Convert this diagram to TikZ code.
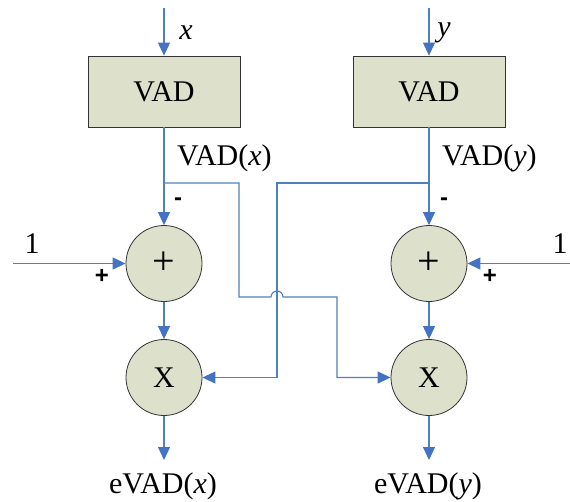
\documentclass[tikz,border=0pt]{standalone}
\usepackage{fontspec}
\setmainfont{Liberation Serif}
\newfontfamily\signfont{Liberation Sans}
\usetikzlibrary{arrows.meta}
\definecolor{lineblue}{RGB}{79,129,189}
\definecolor{arrblue}{RGB}{68,114,196}
\definecolor{boxfill}{RGB}{221,224,203}
\begin{document}
\begin{tikzpicture}[x=1pt,y=-1pt,
  wire/.style={draw=lineblue, line width=1.1pt},
  arr/.style={wire, -{Triangle[length=13pt,width=12pt,color=arrblue]}},
  vadbox/.style={draw=black!80, line width=0.8pt, fill=boxfill, minimum width=152pt, minimum height=71pt, inner sep=0pt, font=\fontsize{30}{34}\selectfont},
  opnode/.style={circle, draw=black!80, line width=0.8pt, fill=boxfill, minimum size=76pt, inner sep=0pt, font=\fontsize{30}{34}\selectfont},
  lbl/.style={inner sep=0pt, font=\fontsize{30}{34}\selectfont},
  sgn/.style={inner sep=0pt, font=\signfont\bfseries\fontsize{24}{26}\selectfont}
]
\useasboundingbox (0,0) rectangle (570,501);

% boxes
\node[vadbox] (vadx) at (164,91.5) {VAD};
\node[vadbox] (vady) at (429,91.5) {VAD};
% circles
\node[opnode, font=\fontsize{40}{44}\selectfont] (plx) at (164,263.5) {+};
\node[opnode, font=\fontsize{40}{44}\selectfont] (ply) at (429,263.5) {+};
\node[opnode] (mx) at (164,377.5) {X};
\node[opnode] (my) at (429,377.5) {X};

% inputs
\coordinate (inx) at (164,8);
\coordinate (iny) at (429,8);
\draw[arr] (inx) -- (vadx.north);
\draw[arr] (iny) -- (vady.north);
\node[lbl] (lx) at (186,33) {\textit{x}};
\node[lbl] (ly) at (444,33) {\textit{y}};

% VAD outputs
\draw[arr] (vadx.south) -- (plx.north);
\draw[arr] (vady.south) -- (ply.north);
\node[lbl, anchor=west] (lvx) at (177,158) {VAD(\textit{x})};
\node[lbl, anchor=west] (lvy) at (442,158) {VAD(\textit{y})};
\node[sgn] (mnx) at (178,202) {-};
\node[sgn] (mny) at (444,202) {-};

% constant inputs
\coordinate (onex) at (13,263.5);
\coordinate (oney) at (570,263.5);
\draw[arr] (onex) -- (plx.west);
\draw[arr] (oney) -- (ply.east);
\node[lbl] (l1x) at (32,244) {1};
\node[lbl] (l1y) at (560,244) {1};
\node[sgn] (psx) at (102,276) {+};
\node[sgn] (psy) at (490,276) {+};

% plus to multiply
\draw[arr] (plx.south) -- (mx.north);
\draw[arr] (ply.south) -- (my.north);

% cross wiring
\coordinate (bx) at (164,183);
\coordinate (by) at (429,183);
\draw[arr] (bx) -- (239,183) -- (239,297) -- (271,297)
  arc[start angle=180, end angle=0, radius=6pt] -- (337,297) -- (337,377.5) -- (my.west);
\draw[arr] (by) -- (277,183) -- (277,377.5) -- (mx.east);

% outputs
\coordinate (ox) at (164,460);
\coordinate (oy) at (429,460);
\draw[arr] (mx.south) -- (ox);
\draw[arr] (my.south) -- (oy);
\node[lbl] (lex) at (163,486) {eVAD(\textit{x})};
\node[lbl] (ley) at (428,486) {eVAD(\textit{y})};
\end{tikzpicture}
\end{document}
